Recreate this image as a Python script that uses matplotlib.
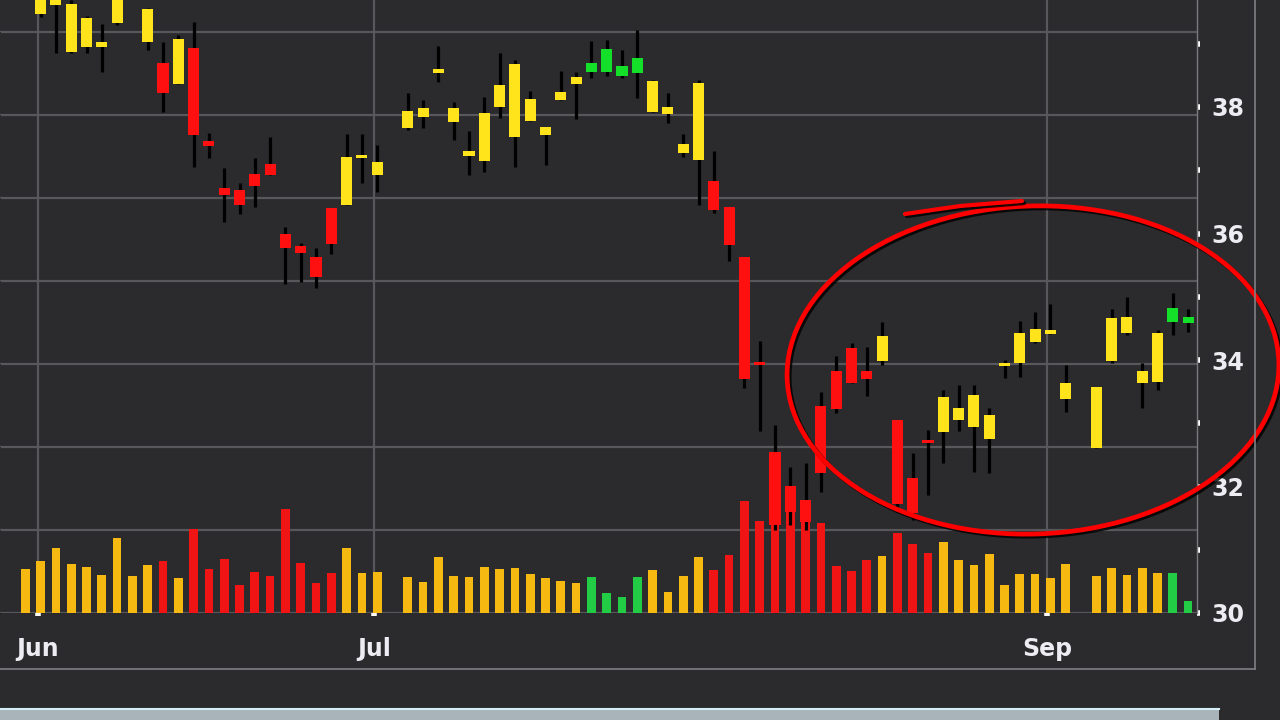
"""
Candlestick + volume chart, dark theme, with a hand-drawn highlight ellipse
"""

import matplotlib
matplotlib.use('Agg')
import matplotlib.pyplot as plt
from matplotlib.patches import Ellipse, Rectangle
from matplotlib.ticker import MultipleLocator, FixedLocator
import matplotlib.patheffects as pe
import numpy as np
import pandas as pd

# ---- data -------------------------------------------------------------
weekdays = pd.bdate_range('2011-05-31', '2011-09-14')
holidays = pd.to_datetime(['2011-07-04', '2011-09-05'])
trade_days = weekdays.drop(holidays)

# y = yellow, r = red, g = green
candle_colors = ("yyyyyyyyy" + "r" + "y" + "rrrrrrrrrr" + "yyy"
                 + "yyyyyyyyyyyy" + "gggg" + "yyyy"
                 + "rrrrrrrrrrr" + "y" + "rrr"
                 + "yyyyyyyyy" + "yyyyy" + "gg")

opens = [39.90, 39.47, 39.61, 38.87, 38.95, 38.95, 39.33, 40.00, 39.03, 38.70, 38.36, 38.93,
         37.46, 36.72, 36.69, 36.94, 37.10, 35.99, 35.80, 35.63, 36.40, 36.45, 37.19, 36.93,
         37.67, 37.84, 38.54, 37.76, 37.23, 37.15, 38.00, 37.53, 37.78, 37.56, 38.11, 38.36,
         38.55, 38.55, 38.49, 38.54, 37.92, 37.89, 37.27, 37.16,
         36.83, 36.42, 35.63, 33.95, 32.55, 32.01, 31.79, 33.27, 33.83, 34.19, 33.83, 33.98,
         33.05, 32.13, 32.72,
         32.86, 33.05, 32.94, 32.75, 33.91, 33.95, 34.28, 34.41, 33.38, 32.61, 33.98, 34.43,
         33.64, 33.65, 34.60, 34.59]
closes = [40.10, 39.85, 39.72, 39.63, 39.41, 39.03, 39.93, 40.20, 39.55, 38.22, 39.08, 37.55,
          37.38, 36.61, 36.45, 36.75, 36.93, 35.77, 35.69, 35.31, 35.83, 37.21, 37.23, 37.13,
          37.94, 37.98, 38.60, 37.98, 37.30, 37.91, 38.35, 38.68, 38.13, 37.68, 38.24, 38.47,
          38.70, 38.92, 38.65, 38.78, 38.41, 38.00, 37.42, 38.38,
          36.37, 35.82, 33.70, 33.92, 31.39, 31.60, 31.44, 32.21, 33.23, 33.64, 33.70, 34.38,
          31.72, 31.58, 32.69,
          33.42, 33.24, 33.45, 33.13, 33.95, 34.43, 34.49, 34.47, 33.64, 33.57, 34.66, 34.68,
          33.83, 34.43, 34.83, 34.68]
highs = [40.30, 39.95, 39.80, 39.69, 39.44, 39.31, 40.05, 40.40, 39.57, 39.03, 39.14, 39.34,
         37.59, 37.04, 36.80, 37.19, 37.53, 36.10, 35.85, 35.77, 36.40, 37.57, 37.57, 37.40,
         38.22, 38.11, 38.96, 38.08, 37.62, 38.16, 38.85, 38.74, 38.25, 37.68, 38.57, 38.55,
         39.04, 39.06, 38.90, 39.22, 38.43, 38.22, 37.57, 38.43,
         37.30, 36.42, 35.63, 34.30, 32.97, 32.31, 32.37, 33.49, 34.06, 34.27, 34.21, 34.60,
         33.05, 32.53, 32.89,
         33.53, 33.61, 33.61, 33.24, 34.00, 34.62, 34.76, 34.89, 33.92, 33.57, 34.81, 34.99,
         33.95, 34.47, 35.06, 34.81]
lows = [39.80, 39.42, 38.85, 38.85, 38.85, 38.55, 39.30, 39.85, 38.90, 37.92, 38.36, 37.05,
        37.19, 36.18, 36.31, 36.42, 36.93, 35.20, 35.23, 35.14, 35.68, 36.45, 36.80, 36.66,
        37.64, 37.67, 38.40, 37.48, 36.93, 36.97, 37.83, 37.05, 37.78, 37.08, 38.11, 37.81,
        38.46, 38.49, 38.46, 38.14, 37.92, 37.75, 37.21, 36.45,
        36.32, 35.57, 33.56, 32.88, 31.31, 31.39, 31.31, 31.91, 33.16, 33.64, 33.43, 33.92,
        31.60, 31.47, 31.87,
        32.37, 32.88, 32.23, 32.21, 33.72, 33.73, 34.27, 34.41, 33.18, 32.61, 33.95, 34.40,
        33.24, 33.52, 34.40, 34.44]
volumes = [2.63, 3.15, 3.90, 2.95, 2.75, 2.29, 4.50, 2.23, 2.89, 3.15, 2.09, 5.04,
           2.63, 3.23, 1.69, 2.49, 2.23, 6.25, 2.99, 1.79, 2.43, 3.90, 2.43, 2.49,
           2.19, 1.89, 3.39, 2.23, 2.15, 2.75, 2.63, 2.69, 2.35, 2.09, 1.95, 1.79,
           2.19, 1.22, 0.98, 2.19, 2.59, 1.25, 2.23, 3.36,
           2.59, 3.49, 6.77, 5.56, 5.70, 6.30, 6.00, 5.40, 2.83, 2.55, 3.19, 3.43,
           4.80, 4.16, 3.63,
           4.30, 3.19, 2.89, 3.55, 1.69, 2.33, 2.35, 2.09, 2.95, 2.23, 2.69, 2.29,
           2.69, 2.39, 2.39, 0.74]

month_labels = ['Jun', 'Jul', 'Sep']
price_ticks = [30, 32, 34, 36, 38]

# ---- styling ----------------------------------------------------------
BG = '#2b2b2d'
GRID = '#58585c'
TEXT = '#ececf2'
BODY = {'y': '#ffe41c', 'r': '#ff1010', 'g': '#14e02a'}
VOL = {'y': '#f6b912', 'r': '#f01414', 'g': '#22cc44'}

x = weekdays.get_indexer(trade_days)
opens = np.array(opens)
closes = np.array(closes)
body_lo = np.minimum(opens, closes)
body_h = np.maximum(np.abs(closes - opens), 0.05)

fig = plt.figure(figsize=(12.8, 7.2), dpi=100, facecolor=BG)
ax_v = fig.add_axes([0, 107 / 720, 1197 / 1280, 613 / 720])
ax_v.set_facecolor(BG)

# volume bars (bottom layer)
ax_v.bar(x, volumes, width=0.57, color=[VOL[c] for c in candle_colors], zorder=2)
ax_v.set_ylim(0, 613 / 83 * 5)
ax_v.yaxis.set_major_locator(MultipleLocator(5))
ax_v.set_xlim(-25.3 / 15.3, (1197 - 25.3) / 15.3)

# month ticks / vertical grid
month_pos = []
for m in [6, 7, 9]:
    first = trade_days[trade_days.month == m][0]
    month_pos.append(weekdays.get_loc(first) - 0.2)
ax_v.xaxis.set_major_locator(FixedLocator(month_pos))
ax_v.set_xticklabels(month_labels, fontweight='bold')
ax_v.grid(True, color=GRID, linewidth=1.6, zorder=0)
ax_v.set_axisbelow(True)
ax_v.tick_params(axis='x', colors='white', length=2, width=4, pad=15,
                 labelsize=17, labelcolor=TEXT)
ax_v.tick_params(axis='y', left=False, labelleft=False)
for s in ax_v.spines.values():
    s.set_visible(False)

# price candles (top layer)
ax_p = ax_v.twinx()
ax_p.vlines(x, lows, highs, color='black', linewidth=2.3, zorder=3)
ax_p.bar(x, body_h, width=0.72, bottom=body_lo,
         color=[BODY[c] for c in candle_colors], zorder=4)
ax_p.set_ylim(30, 30 + 613 / 63.25)
ax_p.set_yticks(price_ticks)
ax_p.set_yticklabels([str(t) for t in price_ticks], fontweight='bold')
ax_p.yaxis.set_minor_locator(MultipleLocator(1))
ax_p.tick_params(axis='y', which='both', colors='white', length=2, width=4,
                 pad=8, labelsize=17, labelcolor=TEXT)
for name, s in ax_p.spines.items():
    s.set_visible(name == 'right')
ax_p.spines['right'].set_color('#7a7a7e')
ax_p.spines['right'].set_linewidth(1)

# overlay: outer frame, bottom strip and red highlight ellipse
ov = fig.add_axes([0, 0, 1, 1], zorder=10)
ov.set_xlim(0, 1280)
ov.set_ylim(720, 0)
ov.axis('off')
ov.patch.set_visible(False)
ov.plot([1255, 1255], [0, 669], color='#808084', lw=1.2)
ov.plot([0, 1255], [669, 669], color='#808084', lw=1.2)
ov.add_patch(Rectangle((0, 708), 1219, 12, facecolor='#a9b3ba', edgecolor='none'))
ov.plot([0, 1219], [708.5, 708.5], color='#d6eef8', lw=1.5)

shadow = [pe.SimpleLineShadow(offset=(1.5, -1.5), shadow_color='black', alpha=0.8),
          pe.Normal()]
ell = Ellipse((1033, 370), 492, 328, angle=-2, fill=False,
              edgecolor='#ff0000', linewidth=3.4, path_effects=shadow)
ov.add_patch(ell)
ov.plot([905, 960, 1022], [214, 206, 201], color='#ff0000', lw=3.0,
        solid_capstyle='round', path_effects=shadow)

plt.savefig('out.png', dpi=100, facecolor=BG)
plt.close()
